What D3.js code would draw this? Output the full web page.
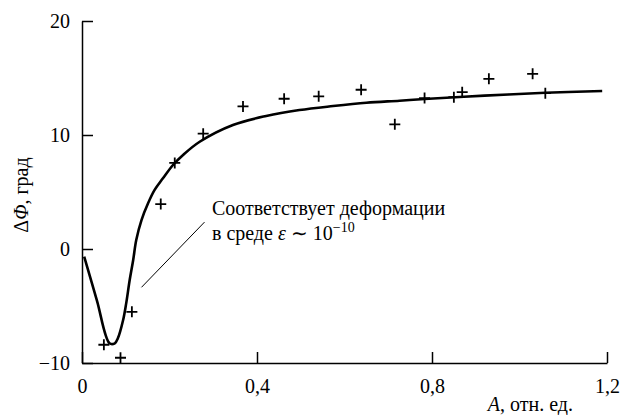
<!DOCTYPE html>
<html>
<head>
<meta charset="utf-8">
<script src="https://cdn.jsdelivr.net/npm/d3@7"></script>
<style>
  svg text, svg tspan { font-family: "Liberation Serif", Tinos, serif !important; }
</style>
</head>
<body style="margin:0">
<div id="chart"></div>
<script>
      // measured points (crosses)
      var pointX = [0.050, 0.088, 0.114, 0.180, 0.212, 0.277, 0.368, 0.462, 0.541, 0.638, 0.715, 0.783, 0.850, 0.869, 0.930, 1.030, 1.059];
      var pointY = [-8.40, -9.54, -5.51, 3.94, 7.55, 10.12, 12.51, 13.18, 13.39, 13.97, 10.94, 13.24, 13.32, 13.76, 14.93, 15.37, 13.67];

      // fitted curve
      var curveX = [0.005, 0.034, 0.063, 0.075, 0.082, 0.094, 0.101, 0.109, 0.117, 0.124, 0.136, 0.151, 0.166, 0.185, 0.208, 0.231, 0.269, 0.345, 0.421, 0.497, 0.574, 0.650, 0.726, 0.783, 0.920, 1.059, 1.189];
      var curveY = [-0.67, -4.5, -8.27, -8.27, -7.83, -6.23, -4.77, -2.72, -0.96, 0.79, 2.54, 4.01, 5.18, 6.20, 7.37, 8.25, 9.41, 10.88, 11.67, 12.19, 12.54, 12.83, 13.01, 13.16, 13.45, 13.71, 13.86];

      var xTicks = [0, 0.4, 0.8, 1.2];
      var yTicks = [-10, 0, 10, 20];

      var margin = {top: 21, right: 15, bottom: 52, left: 82};
      var width = 622 - margin.left - margin.right,
          height = 415 - margin.top - margin.bottom;

      var svg = d3.select("#chart").append("svg")
          .attr("width", 622)
          .attr("height", 415);
      var canvas = svg.append("g")
          .attr("transform", "translate(" + margin.left + "," + margin.top + ")");

      var xScale = d3.scaleLinear().domain([0, 1.2]).range([0, width]);
      var yScale = d3.scaleLinear().domain([-10, 20]).range([height, 0]);

      function fmt(d) {
          return String(d).replace("-", "\u2212").replace(".", ",");
      }

      var xAxis = d3.axisBottom(xScale).tickValues(xTicks).tickFormat(fmt)
          .tickSizeInner(-11).tickSizeOuter(0).tickPadding(16);
      var yAxis = d3.axisLeft(yScale).tickValues(yTicks).tickFormat(fmt)
          .tickSizeInner(-11).tickSizeOuter(0).tickPadding(12);

      var gx = canvas.append("g")
          .attr("transform", "translate(0," + height + ")")
          .call(xAxis);
      var gy = canvas.append("g")
          .call(yAxis);

      [gx, gy].forEach(function(g) {
          g.attr("font-family", "Liberation Serif").attr("font-size", 20);
          g.selectAll("path, line").attr("stroke", "#000").attr("stroke-width", 1.5);
          g.selectAll("text").attr("fill", "#000");
      });

      // all free texts share one table
      var labels = [
          {x: 573, y: 411, anchor: "end", rot: false, parts: [["A", "italic"], [", отн. ед.", "normal"]]},
          {x: 28, y: 195, anchor: "middle", rot: true, parts: [["\u0394", "normal"], ["\u03A6", "italic"], [", град", "normal"]]}
      ];
      svg.selectAll(".title")
          .data(labels)
          .enter()
          .append("text")
          .attr("class", "title")
          .attr("font-family", "Liberation Serif")
          .attr("font-size", 20)
          .attr("text-anchor", function(d) { return d.anchor; })
          .attr("transform", function(d) {
              return "translate(" + d.x + "," + d.y + ")" + (d.rot ? " rotate(-90)" : "");
          })
          .each(function(d) {
              var t = d3.select(this);
              d.parts.forEach(function(p) {
                  t.append("tspan").attr("font-style", p[1]).text(p[0]);
              });
          });

      // curve
      var curveData = curveX.map(function(d, i) { return {x: d, y: curveY[i]}; });
      var line = d3.line()
          .x(function(d) { return xScale(d.x); })
          .y(function(d) { return yScale(d.y); })
          .curve(d3.curveCatmullRom.alpha(0.5));
      canvas.append("path")
          .datum(curveData)
          .attr("d", line)
          .attr("fill", "none")
          .attr("stroke", "#000")
          .attr("stroke-width", 2.6);

      // crosses
      var pts = pointX.map(function(d, i) { return {x: d, y: pointY[i]}; });
      canvas.append("g")
          .selectAll(".pt")
          .data(pts)
          .enter()
          .append("path")
          .attr("class", "pt")
          .attr("d", function(d) {
              var cx = xScale(d.x), cy = yScale(d.y), r = 5.5;
              return "M" + (cx - r) + "," + cy + "H" + (cx + r) + "M" + cx + "," + (cy - r) + "V" + (cy + r);
          })
          .attr("stroke", "#000")
          .attr("stroke-width", 1.8);

      // annotation
      canvas.append("line")
          .attr("x1", xScale(0.136)).attr("y1", yScale(-3.36))
          .attr("x2", xScale(0.280)).attr("y2", yScale(2.36))
          .attr("stroke", "#000")
          .attr("stroke-width", 1);

      canvas.append("text")
          .attr("x", xScale(0.297)).attr("y", yScale(2.97))
          .attr("font-family", "Liberation Serif")
          .attr("font-size", 20)
          .text("Соответствует деформации");
      var t2 = canvas.append("text")
          .attr("x", xScale(0.297)).attr("y", yScale(0.79))
          .attr("font-family", "Liberation Serif")
          .attr("font-size", 20);
      t2.append("tspan").text("в среде ");
      t2.append("tspan").attr("font-style", "italic").text("\u03B5");
      t2.append("tspan").text(" \u223C 10");
      t2.append("tspan").attr("dy", -8).attr("font-size", 14).text("\u221210");
</script>
</body>
</html>
